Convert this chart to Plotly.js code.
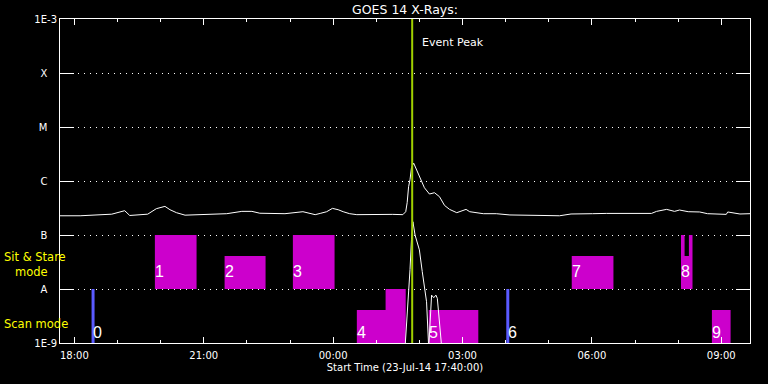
<!DOCTYPE html>
<html><head><meta charset="utf-8">
<script src="https://cdn.plot.ly/plotly-3.0.1.min.js"></script>
<style>html,body{margin:0;padding:0;background:#000;}#chart{width:768px;height:384px;}</style>
</head><body><div id="chart"></div>
<script>
// GOES 14 long channel (1-8 A), W/m^2
const longTimes = ['17:40','18:08','18:52','19:10','19:17','19:42','19:54','20:06','20:13','20:22','20:34','21:09','21:32','21:53','22:07','22:18','22:53','23:18','23:28','23:35','23:42','23:51','23:59','00:07','00:14','00:23','00:33','01:00','01:23','01:37','01:41','01:43','01:45','01:47','01:49','01:52','01:56','02:00','02:07','02:14','02:21','02:28','02:35','02:42','02:52','03:05','03:10','03:29','03:47','04:06','04:38','04:52','05:15','05:31','06:01','06:20','07:23','07:30','07:44','07:55','08:02','08:14','08:30','08:41','09:07','09:09','09:26','09:40'];
const longFlux = [2.27e-7,2.27e-7,2.43e-7,2.82e-7,2.30e-7,2.43e-7,3.07e-7,3.39e-7,2.94e-7,2.59e-7,2.33e-7,2.38e-7,2.48e-7,2.74e-7,2.74e-7,2.53e-7,2.48e-7,2.70e-7,2.48e-7,2.38e-7,2.51e-7,2.70e-7,3.11e-7,2.94e-7,2.70e-7,2.48e-7,2.38e-7,2.43e-7,2.41e-7,2.38e-7,2.70e-7,3.96e-7,7.84e-7,1.06e-6,1.76e-6,2.15e-6,1.62e-6,1.31e-6,7.5e-7,5.74e-7,6.07e-7,5.12e-7,3.53e-7,2.98e-7,2.59e-7,2.98e-7,2.70e-7,2.48e-7,2.48e-7,2.35e-7,2.27e-7,2.30e-7,2.27e-7,2.45e-7,2.48e-7,2.51e-7,2.51e-7,2.74e-7,2.98e-7,2.74e-7,2.90e-7,2.70e-7,2.67e-7,2.48e-7,2.41e-7,2.67e-7,2.45e-7,2.48e-7];

// GOES 14 short channel (0.5-4 A), W/m^2
const shortTimes = ['01:38','01:42','01:44','01:47','01:49','01:51','01:54','02:00','02:04','02:10','02:13','02:16','02:17','02:20','02:23','02:25','02:27','02:30','02:32','02:36'];
const shortFlux = [3e-10,1.8e-9,6.3e-9,2.3e-8,8.2e-8,1.76e-7,1.0e-7,5.3e-8,2.1e-8,5.8e-9,8e-10,5.6e-9,7.7e-9,6.9e-9,7.7e-9,6.7e-9,2.9e-9,1.2e-9,6e-10,3e-10];

// Observation windows
const obsLabel = ['1','2','3','4','','5','7','8','','','9'];
const obsStart = ['19:52','21:29','23:04','00:33','01:13','02:13','05:32','08:04','08:04','08:15','08:47'];
const obsEnd   = ['20:50','22:26','00:02','01:41','01:41','03:22','06:30','08:20','08:09','08:20','09:13'];
const obsMode  = ['sit','sit','sit','scan','scan','scan','sit','sit','sit','sit','scan'];
const obsLow   = [1e-8,1e-8,1e-8,1e-9,1e-9,1e-9,1e-8,1e-8,1e-8,1e-8,1e-9];
const obsHigh  = [1e-7,4.1e-8,1e-7,4.1e-9,1e-8,4.1e-9,4.1e-8,4.1e-8,1e-7,1e-7,4.1e-9];

// Very short observations (drawn as lines)
const lineObsLabel = ['0','6'];
const lineObsTime = ['18:26','04:03'];
const lineObsLow = [1e-9,1e-9];
const lineObsHigh = [1e-8,1e-8];

const peakTime = '01:50';

const yTickVals = [1e-9,1e-8,1e-7,1e-6,1e-5,1e-4,1e-3];
const yTickText = ['1E-9','A\u00a0\u00a0\u00a0','B\u00a0\u00a0\u00a0','C\u00a0\u00a0\u00a0','M\u00a0\u00a0\u00a0','X\u00a0\u00a0\u00a0','1E-3'];

function toDate(hm){ const h = parseInt(hm.slice(0,2),10); return (h>=17?'2014-07-23 ':'2014-07-24 ') + hm; }

const rx = [], ry = [];
for (let i=0;i<obsStart.length;i++){
  const a = toDate(obsStart[i]), b = toDate(obsEnd[i]);
  rx.push(a,b,b,a,a,null); ry.push(obsLow[i],obsLow[i],obsHigh[i],obsHigh[i],obsLow[i],null);
}
const lx = [], ly = [];
for (let i=0;i<lineObsTime.length;i++){
  const t = toDate(lineObsTime[i]);
  lx.push(t,t,null); ly.push(lineObsLow[i],lineObsHigh[i],null);
}

const traces = [
  {type:'scatter',mode:'lines',x:rx,y:ry,fill:'toself',fillcolor:'#cc00cc',line:{width:0,color:'#cc00cc'},hoverinfo:'skip'},
  {type:'scatter',mode:'lines',x:lx,y:ly,line:{width:3,color:'#5a5aff'},hoverinfo:'skip'},
  {type:'scatter',mode:'lines',x:longTimes.map(toDate),y:longFlux,line:{width:1,color:'#ffffff'}},
  {type:'scatter',mode:'lines',x:shortTimes.map(toDate),y:shortFlux,line:{width:1,color:'#ffffff'}},
  {type:'scatter',mode:'lines',x:[toDate(peakTime),toDate(peakTime)],y:[1e-9,1e-3],line:{width:2,color:'#a0d000'}}
];

const ann = [];
for (let i=0;i<obsStart.length;i++){
  if(!obsLabel[i]) continue;
  const off = obsMode[i]==='sit'?0.32:0.19;
  ann.push({x:toDate(obsStart[i]),y:Math.log10(obsLow[i])+off,xref:'x',yref:'y',text:obsLabel[i],showarrow:false,xanchor:'left',yanchor:'middle',xshift:-2,font:{family:'Liberation Sans',size:16,color:'#ffffff'}});
}
for (let i=0;i<lineObsTime.length;i++){
  ann.push({x:toDate(lineObsTime[i]),y:Math.log10(lineObsLow[i])+0.19,xref:'x',yref:'y',text:lineObsLabel[i],showarrow:false,xanchor:'left',yanchor:'middle',xshift:-2,font:{family:'Liberation Sans',size:16,color:'#ffffff'}});
}
ann.push({x:toDate(peakTime),y:0.926,xref:'x',yref:'paper',text:'Event Peak',showarrow:false,xanchor:'left',yanchor:'middle',xshift:8,font:{family:'DejaVu Sans',size:11,color:'#ffffff'}});
ann.push({x:0.002,y:264.8,xref:'paper',yref:'paper',text:'Sit & Stare<br>\u00a0\u00a0\u00a0mode',align:'left',showarrow:false,xanchor:'left',yanchor:'middle',font:{family:'DejaVu Sans',size:11.5,color:'#ffff00'}});
ann.push({x:0.002,y:324,xref:'paper',yref:'paper',text:'Scan mode',showarrow:false,xanchor:'left',yanchor:'middle',font:{family:'DejaVu Sans',size:11.5,color:'#ffff00'}});
// convert pixel-based paper positions for the mode labels
const L=60,R=18,T=19,B=41,W=768,H=384;
ann.forEach(a=>{ if(a.xref==='paper'){ a.x = (a.x*W - L)/(W-L-R); a.y = (H-B-a.y)/(H-T-B); } });

const layout = {
  width:W,height:H,margin:{l:L,r:R,t:T,b:B,pad:0},
  paper_bgcolor:'#000',plot_bgcolor:'#000',showlegend:false,
  font:{family:'DejaVu Sans',color:'#ffffff',size:10},
  title:{text:'GOES 14 X-Rays:',font:{family:'DejaVu Sans',size:12.5,color:'#ffffff'},x:405/768,xanchor:'center',y:1-10/384,yanchor:'middle'},
  xaxis:{type:'date',range:['2014-07-23 17:40','2014-07-24 09:40'],tick0:'2014-07-23 18:00',dtick:3*3600000,tickformat:'%H:%M',
    ticks:'inside',ticklen:6,tickwidth:1,tickcolor:'#fff',showline:true,linecolor:'#fff',linewidth:1,mirror:'ticks',showgrid:false,zeroline:false,
    minor:{dtick:3600000,ticks:'inside',ticklen:3,tickcolor:'#fff',showgrid:false},
    tickfont:{family:'DejaVu Sans',size:10,color:'#fff'},ticklabelstandoff:3,
    title:{text:'Start Time (23-Jul-14 17:40:00)',font:{family:'DejaVu Sans',size:10,color:'#fff'},standoff:3},automargin:false},
  yaxis:{type:'log',range:[-9,-3],tickmode:'array',tickvals:yTickVals,ticktext:yTickText,
    ticks:'inside',ticklen:14,tickwidth:1,tickcolor:'#fff',showline:true,linecolor:'#fff',linewidth:1,mirror:'ticks',
    showgrid:true,gridcolor:'#fff',gridwidth:1,griddash:'1px,5px',zeroline:false,
    tickfont:{family:'DejaVu Sans',size:10,color:'#fff'},automargin:false},
  annotations:ann
};
Plotly.newPlot('chart',traces,layout,{displayModeBar:false,staticPlot:true});
</script></body></html>
